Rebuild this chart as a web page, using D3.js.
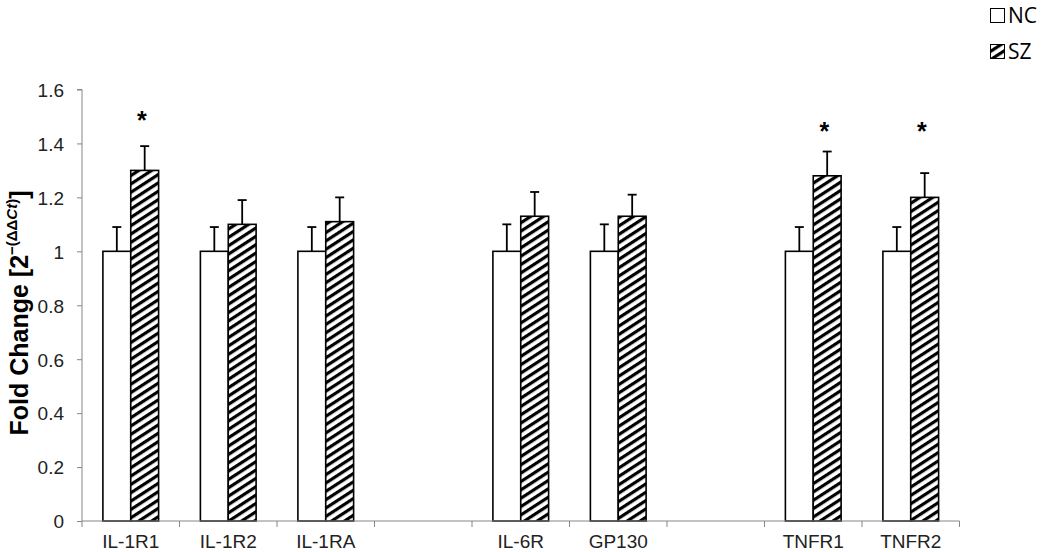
<!DOCTYPE html>
<html>
<head>
<meta charset="utf-8">
<script src="https://cdn.jsdelivr.net/npm/d3@7"></script>
<style>
  body { margin: 0; background: #fff; }
  svg { display: block; }
</style>
</head>
<body>
<svg id="chart" width="1050" height="552"></svg>
<script>
// data
var categories = ["IL-1R1", "IL-1R2", "IL-1RA", "", "IL-6R", "GP130", "", "TNFR1", "TNFR2"];
var ncValues = [1, 1, 1, null, 1, 1, null, 1, 1];
var ncErrors = [0.09, 0.09, 0.09, null, 0.10, 0.10, null, 0.09, 0.09];
var szValues = [1.30, 1.10, 1.11, null, 1.13, 1.13, null, 1.28, 1.20];
var szErrors = [0.09, 0.09, 0.09, null, 0.09, 0.08, null, 0.09, 0.09];
var stars = [1.50, null, null, null, null, null, null, 1.46, 1.46];
var yTicks = [0, 0.2, 0.4, 0.6, 0.8, 1, 1.2, 1.4, 1.6];
var groups = ["NC", "SZ"];

var svg = d3.select("#chart");
var axisColor = "#868686";
var font = "'Liberation Sans', Arial, sans-serif";

var slots = categories.map(function(c, i){ return "s" + i; });

var x = d3.scaleBand().domain(slots).range([82, 959.5]).padding(0);
var x1 = d3.scaleBand().domain(groups).range([0, x.bandwidth()]).paddingInner(0).paddingOuter(0.75);
var y = d3.scaleLinear().domain([0, 1.6]).range([521, 89.5]);

// hatch pattern for SZ
var defs = svg.append("defs");
var pat = defs.append("pattern")
    .attr("id", "hatch")
    .attr("patternUnits", "userSpaceOnUse")
    .attr("width", 10).attr("height", 7)
    .attr("patternTransform", "rotate(-33)");
pat.append("rect").attr("width", 10).attr("height", 7).attr("fill", "#fff");
pat.append("rect").attr("y", 0).attr("width", 10).attr("height", 3.2).attr("fill", "#000");

// rows for bars
var rows = [];
categories.forEach(function(c, i){
    if (ncValues[i] == null) return;
    rows.push({slot: slots[i], group: "NC", value: ncValues[i], err: ncErrors[i]});
    rows.push({slot: slots[i], group: "SZ", value: szValues[i], err: szErrors[i]});
});

// y axis
var yAxis = svg.append("g")
    .attr("transform", "translate(82,0)")
    .call(d3.axisLeft(y).tickValues(yTicks).tickSize(5).tickPadding(13)
        .tickFormat(function(d){ return d3.format("")(+d.toFixed(1)); }));
yAxis.select(".domain").attr("stroke", axisColor).attr("d", "M-5," + y(1.6) + "H0V" + y(0));
yAxis.selectAll(".tick line").attr("stroke", axisColor);
yAxis.selectAll(".tick text")
    .attr("fill", "#222")
    .attr("dy", "0.36em")
    .style("font-family", font)
    .style("font-size", "19px");

// bars
var bars = svg.append("g");
bars.selectAll("rect")
    .data(rows)
    .enter().append("rect")
    .attr("x", function(d){ return x(d.slot) + x1(d.group); })
    .attr("y", function(d){ return y(d.value); })
    .attr("width", x1.bandwidth())
    .attr("height", function(d){ return y(0) - y(d.value); })
    .attr("fill", function(d){ return d.group == "SZ" ? "url(#hatch)" : "#fff"; })
    .attr("stroke", "#000")
    .attr("stroke-width", 1.6);

// error bars (upper only)
var errs = svg.append("g").attr("stroke", "#000").attr("stroke-width", 1.8);
rows.forEach(function(d){
    var cx = x(d.slot) + x1(d.group) + x1.bandwidth() / 2;
    errs.append("line")
        .attr("x1", cx).attr("x2", cx)
        .attr("y1", y(d.value)).attr("y2", y(d.value + d.err));
    errs.append("line")
        .attr("x1", cx - 4.5).attr("x2", cx + 4.5)
        .attr("y1", y(d.value + d.err)).attr("y2", y(d.value + d.err));
});

// x axis (Excel style, ticks between categories)
var xAxis = svg.append("g").attr("transform", "translate(0," + y(0) + ")");
xAxis.append("line")
    .attr("x1", x.range()[0]).attr("x2", x.range()[1])
    .attr("stroke", axisColor).attr("stroke-width", 1);
var bounds = slots.map(function(s){ return x(s); }).concat([x.range()[1]]);
xAxis.selectAll(".xt")
    .data(bounds)
    .enter().append("line")
    .attr("x1", function(d){ return d; }).attr("x2", function(d){ return d; })
    .attr("y1", 0).attr("y2", 6)
    .attr("stroke", axisColor);
xAxis.selectAll(".xl")
    .data(categories)
    .enter().append("text")
    .attr("x", function(d, i){ return x(slots[i]) + x.bandwidth() / 2; })
    .attr("y", 27)
    .attr("text-anchor", "middle")
    .attr("fill", "#222")
    .style("font-family", font)
    .style("font-size", "19px")
    .text(function(d){ return d; });

// significance stars
svg.append("g").selectAll("text")
    .data(stars.map(function(v, i){ return {v: v, slot: slots[i]}; }).filter(function(d){ return d.v != null; }))
    .enter().append("text")
    .attr("x", function(d){ return x(d.slot) + x.bandwidth() / 2 + 11; })
    .attr("y", function(d){ return y(d.v) + 13; })
    .attr("text-anchor", "middle")
    .style("font-family", font)
    .style("font-size", "25px")
    .style("font-weight", "bold")
    .text("*");

// y label
var yl = svg.append("text")
    .attr("transform", "translate(28,313) rotate(-90)")
    .attr("text-anchor", "middle")
    .style("font-family", font)
    .style("font-size", "25px")
    .style("font-weight", "bold")
    .attr("fill", "#000");
yl.append("tspan").text("Fold Change [2");
yl.append("tspan").attr("dy", -11).style("font-size", "15px").text("\u2212(\u0394\u0394");
yl.append("tspan").style("font-size", "15px").style("font-style", "italic").text("Ct");
yl.append("tspan").style("font-size", "15px").text(")");
yl.append("tspan").attr("dy", 11).text("]");

// legend
var leg = svg.append("g");
groups.forEach(function(g, i){
    var ly = 8 + i * 36;
    leg.append("rect")
        .attr("x", 990.5).attr("y", ly + 0.5)
        .attr("width", 14).attr("height", 14)
        .attr("fill", g == "SZ" ? "url(#hatch)" : "#fff")
        .attr("stroke", "#000").attr("stroke-width", 1);
    leg.append("text")
        .attr("x", 1008).attr("y", ly + 15)
        .style("font-family", "'Open Sans', sans-serif")
        .style("font-size", "21px")
        .text(g);
});
</script>
</body>
</html>
